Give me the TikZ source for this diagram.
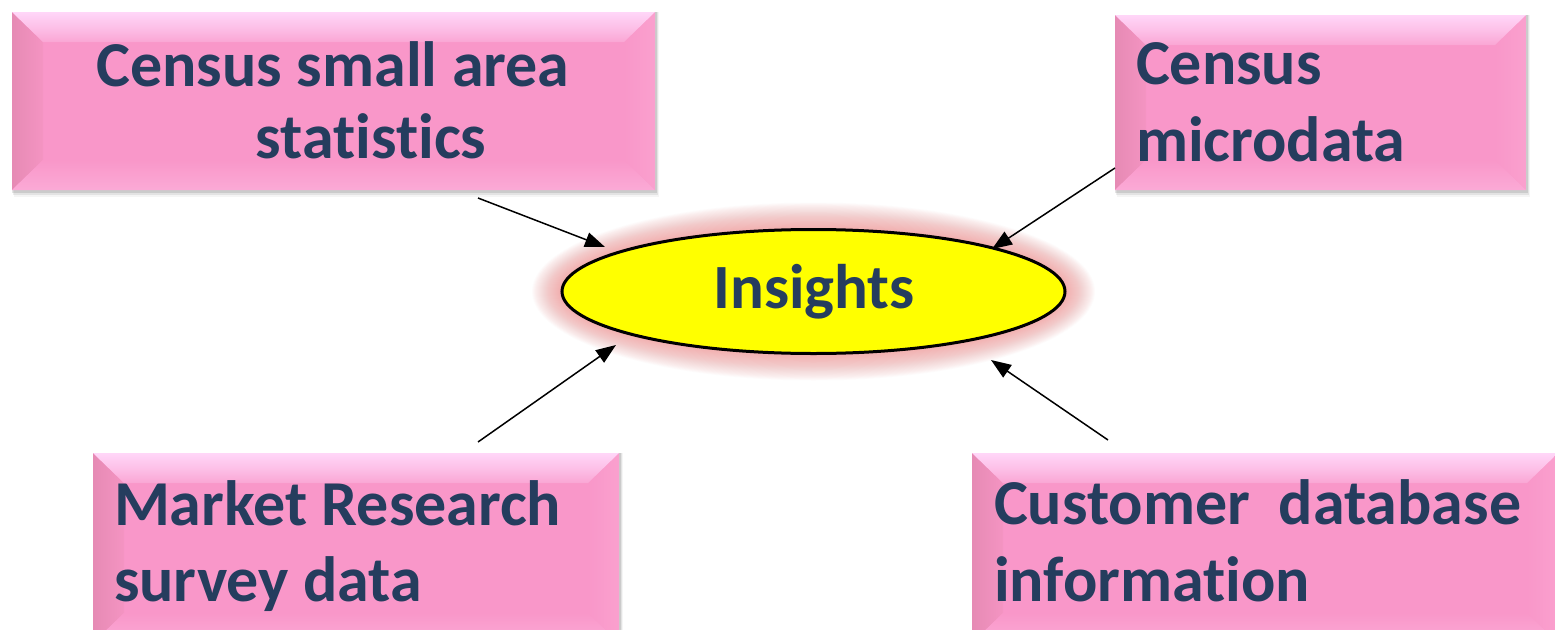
\documentclass[tikz,border=0pt]{standalone}
\usepackage{fontspec}
\setmainfont{Carlito}[Ligatures=NoCommon, RawFeature=-liga]
\usetikzlibrary{arrows.meta,shapes.geometric,backgrounds}
\definecolor{txtblue}{RGB}{37,61,94}
\definecolor{boxpink}{RGB}{249,151,201}
\definecolor{bevtopc}{RGB}{250,166,212}
\definecolor{bevtoplight}{RGB}{255,214,248}
\definecolor{bevleft}{RGB}{230,138,180}
\definecolor{bevleftin}{RGB}{244,148,194}
\definecolor{bevright}{RGB}{250,160,206}
\definecolor{bevbot}{RGB}{251,170,214}
\definecolor{glowc}{RGB}{242,130,130}
\definecolor{insyellow}{RGB}{255,255,0}
\tikzset{
  pinkbox/.style={rectangle, inner sep=0pt, outer sep=0pt, fill=boxpink,
    path picture={
      \path (path picture bounding box.north west) coordinate (pNW)
            (path picture bounding box.north east) coordinate (pNE)
            (path picture bounding box.south west) coordinate (pSW)
            (path picture bounding box.south east) coordinate (pSE);
      \shade[left color=bevleft, right color=bevleftin] (pNW) -- ([shift={(31pt,-30pt)}]pNW) -- ([shift={(31pt,30pt)}]pSW) -- (pSW) -- cycle;
      \shade[left color=boxpink, right color=bevright] (pNE) -- ([shift={(-31pt,-30pt)}]pNE) -- ([shift={(-31pt,30pt)}]pSE) -- (pSE) -- cycle;
      \shade[top color=boxpink, bottom color=bevbot] (pSW) -- ([shift={(31pt,30pt)}]pSW) -- ([shift={(-31pt,30pt)}]pSE) -- (pSE) -- cycle;
      \shade[top color=bevtoplight, bottom color=bevtopc, middle color=bevtoplight!55!bevtopc] (pNW) -- (pNE) -- ([shift={(-31pt,-30pt)}]pNE) -- ([shift={(31pt,-30pt)}]pNW) -- cycle;
    }},
  boxtext/.style={inner sep=0pt, outer sep=0pt, text=txtblue, font=\fontsize{64}{76}\selectfont\bfseries},
  insight/.style={ellipse, draw=black, line width=3pt, fill=insyellow, inner sep=0pt},
  conn/.style={line width=1.5pt, -{Triangle[length=20pt,width=15pt]}},
}
\begin{document}
\begin{tikzpicture}[x=1pt,y=-1pt]
\useasboundingbox (0,0) rectangle (1555,629);

% boxes
\node[pinkbox, minimum width=643pt, minimum height=178pt] (b1) at (333.5,101) {};
\node[pinkbox, minimum width=411pt, minimum height=175pt] (b2) at (1320.5,102.5) {};
\node[pinkbox, minimum width=526pt, minimum height=190pt] (b3) at (356,548) {};
\node[pinkbox, minimum width=586pt, minimum height=190pt] (b4) at (1265,548) {};

% box texts
\node[boxtext, anchor=base] (t1a) at (333,86) {Census small area};
\node[boxtext, anchor=base] (t1b) at (371,158) {statistics};
\node[boxtext, anchor=base west] (t2a) at (1136,84) {Census};
\node[boxtext, anchor=base west] (t2b) at (1136,161) {microdata};
\node[boxtext, anchor=base west] (t3a) at (114,525) {Market Research};
\node[boxtext, anchor=base west] (t3b) at (114,601) {survey data};
\node[boxtext, anchor=base west] (t4a) at (994,524) {Customer\ \ database};
\node[boxtext, anchor=base west] (t4b) at (994,601) {information};

% central ellipse
\node[insight, minimum width=503pt, minimum height=124pt] (ins) at (813.5,291.5) {};
\node[inner sep=0pt, text=txtblue, font=\fontsize{63}{74}\selectfont\bfseries, anchor=base] (inst) at (814,308) {Insights};

\begin{scope}[on background layer]
  \fill[white] (0,0) rectangle (1555,629);
  \foreach \i in {1,...,30} {
    \fill[glowc, opacity=0.028] (ins.center) ellipse ({251.5+\i} and {62+0.9*\i});
  }
  \foreach \n in {b1,b2,b3,b4} {
    \fill[black, opacity=0.10] ([shift={(0pt,0pt)}]\n.north west) rectangle ([shift={(2pt,-3pt)}]\n.south east);
    \fill[black, opacity=0.07] ([shift={(1pt,0pt)}]\n.north west) rectangle ([shift={(3pt,-5pt)}]\n.south east);
    \fill[black, opacity=0.04] ([shift={(2pt,0pt)}]\n.north west) rectangle ([shift={(4pt,-7pt)}]\n.south east);
  }
\end{scope}

% connectors
\coordinate (s1) at (478,198);
\coordinate (e1) at (605,247);
\coordinate (s2) at (1115,168);
\coordinate (e2) at (992,249);
\coordinate (s3) at (478,442);
\coordinate (e3) at (616,345);
\coordinate (s4) at (1108,440);
\coordinate (e4) at (991,360);
\draw[conn] (s1) -- (e1);
\draw[conn] (s2) -- (e2);
\draw[conn] (s3) -- (e3);
\draw[conn] (s4) -- (e4);
\end{tikzpicture}
\end{document}
